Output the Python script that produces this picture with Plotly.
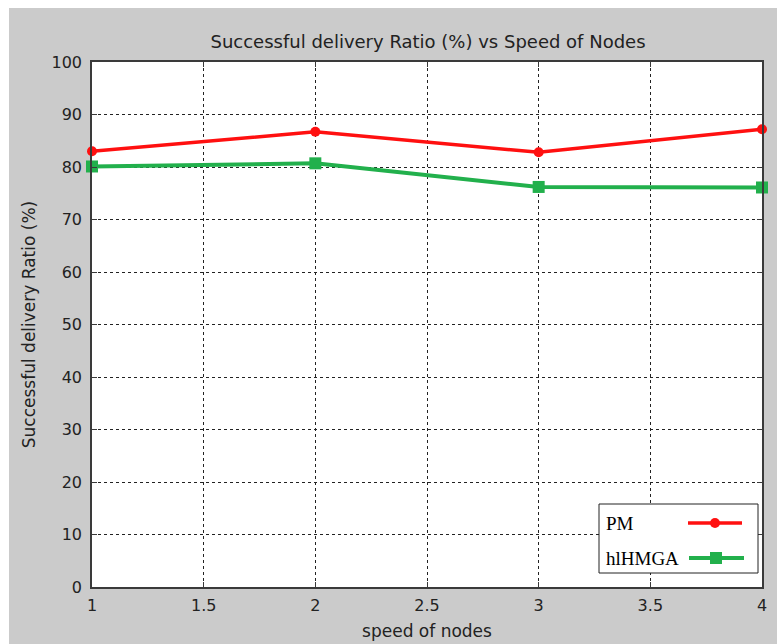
import plotly.graph_objects as go

speed = [1, 2, 3, 4]
pm = [83.0, 86.7, 82.8, 87.2]
hlhmga = [80.1, 80.7, 76.2, 76.1]
x_ticks = [1, 1.5, 2, 2.5, 3, 3.5, 4]
x_tick_text = ["1", "1.5", "2", "2.5", "3", "3.5", "4"]
y_ticks = list(range(0, 101, 10))

RED = "#ff1010"
GREEN = "#22b04c"
GREY = "#cbcbcb"
FONT = "DejaVu Sans"
TXT = "#222222"

fig = go.Figure()
fig.add_trace(go.Scatter(x=speed, y=pm, mode="lines+markers", name="PM",
                         line=dict(color=RED, width=3.5),
                         marker=dict(symbol="circle", size=10, color=RED),
                         cliponaxis=False, showlegend=False))
fig.add_trace(go.Scatter(x=speed, y=hlhmga, mode="lines+markers", name="hlHMGA",
                         line=dict(color=GREEN, width=4),
                         marker=dict(symbol="square", size=12, color=GREEN),
                         cliponaxis=False, showlegend=False))

axis_common = dict(showline=True, linecolor="#3a3a3a", linewidth=1.5, mirror="ticks",
                   ticks="inside", ticklen=5, tickcolor="#3a3a3a", automargin=False,
                   showgrid=True, gridcolor="#222222", gridwidth=1, griddash="3px,3px",
                   zeroline=False, tickfont=dict(family=FONT, size=16, color=TXT))

# legend geometry (fractions of the plot area)
PW, PH = 670, 525
def px(v):
    return (v - 92) / PW
def py(v):
    return (587 - v) / PH

shapes = [
    dict(type="rect", xref="paper", yref="paper", x0=-0.2, x1=1.1,
         y0=py(8), y1=1.2, fillcolor="white", line=dict(width=0), layer="below"),
    dict(type="rect", xref="paper", yref="paper", x0=-0.2, x1=px(9),
         y0=-0.2, y1=1.2, fillcolor="white", line=dict(width=0), layer="below"),
    dict(type="rect", xref="paper", yref="paper", x0=px(599), x1=px(758),
         y0=py(573), y1=py(504), fillcolor="white", line=dict(color=TXT, width=1),
         layer="above"),
    # PM sample
    dict(type="line", xref="paper", yref="paper", x0=px(688), x1=px(742),
         y0=py(523), y1=py(523), line=dict(color=RED, width=3.5), layer="above"),
    dict(type="circle", xref="paper", yref="paper", x0=px(710), x1=px(720),
         y0=py(528), y1=py(518), fillcolor=RED, line=dict(color=RED, width=0), layer="above"),
    # hlHMGA sample
    dict(type="line", xref="paper", yref="paper", x0=px(689), x1=px(744),
         y0=py(558), y1=py(558), line=dict(color=GREEN, width=4), layer="above"),
    dict(type="rect", xref="paper", yref="paper", x0=px(710), x1=px(722),
         y0=py(564), y1=py(552), fillcolor=GREEN, line=dict(color=GREEN, width=0), layer="above"),
]

fig.update_layout(
    width=777, height=644,
    margin=dict(l=92, r=15, t=62, b=57, autoexpand=False),
    paper_bgcolor=GREY, plot_bgcolor="white",
    title=dict(text="Successful delivery Ratio (%) vs Speed of Nodes",
               x=428 / 777, xanchor="center", xref="container",
               y=1 - 42 / 644, yanchor="middle", yref="container",
               font=dict(family=FONT, size=18, color=TXT)),
    xaxis=dict(range=[1, 4], tickvals=x_ticks, ticktext=x_tick_text, ticklabelstandoff=3,
               title=dict(text="speed of nodes", font=dict(family=FONT, size=17, color=TXT),
                          standoff=11),
               **axis_common),
    yaxis=dict(range=[0, 100], tickvals=y_ticks, ticklabelstandoff=5,
               title=dict(text="Successful delivery Ratio (%)",
                          font=dict(family=FONT, size=17, color=TXT), standoff=12),
               **axis_common),
    shapes=shapes,
    annotations=[
        dict(text="PM", x=px(604), y=py(523), xref="paper", yref="paper",
             xanchor="left", yanchor="middle", showarrow=False,
             font=dict(family="Liberation Serif", size=19, color="black")),
        dict(text="hlHMGA", x=px(604), y=py(558), xref="paper", yref="paper",
             xanchor="left", yanchor="middle", showarrow=False,
             font=dict(family="Liberation Serif", size=19, color="black")),
    ],
)

fig.write_html("out.html")
